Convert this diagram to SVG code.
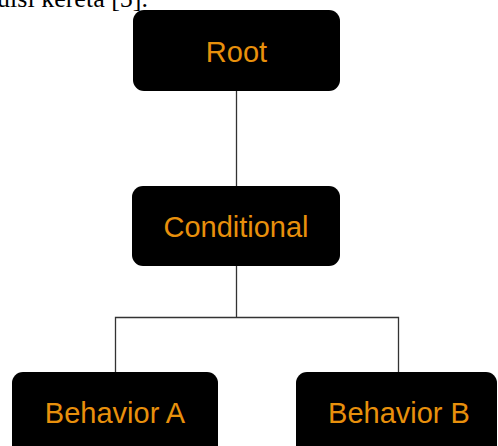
<svg xmlns="http://www.w3.org/2000/svg" width="498" height="446" viewBox="0 0 498 446">
<style>
.box{fill:#000;}
.lbl{font-family:"Liberation Sans",Arial,sans-serif;font-size:29px;fill:#E8900C;text-anchor:middle;}
.wire{stroke:#333;stroke-width:1.3;fill:none;}
.cap{font-family:"Liberation Serif","Times New Roman",serif;font-size:26px;fill:#000;text-anchor:end;}
</style>
<rect width="498" height="446" fill="#fff"/>
<text class="cap" x="148" y="7">ulsi kereta [5].</text>
<g id="connectors">
<path class="wire" d="M236.5 91 V186"/>
<path class="wire" d="M236.5 266 V317.5 M115.5 372 V317.5 H398.5 V372"/>
</g>
<g id="root">
<rect class="box" x="133" y="10" width="207" height="81" rx="11"/>
<text class="lbl" x="236.5" y="62">Root</text>
</g>
<g id="conditional">
<rect class="box" x="132" y="186" width="208" height="80" rx="11"/>
<text class="lbl" x="236" y="236.5">Conditional</text>
</g>
<g id="behaviorA">
<rect class="box" x="12" y="372" width="206" height="90" rx="11"/>
<text class="lbl" x="115" y="423">Behavior A</text>
</g>
<g id="behaviorB">
<rect class="box" x="296" y="372" width="201" height="90" rx="11"/>
<text class="lbl" x="399" y="423">Behavior B</text>
</g>
</svg>
